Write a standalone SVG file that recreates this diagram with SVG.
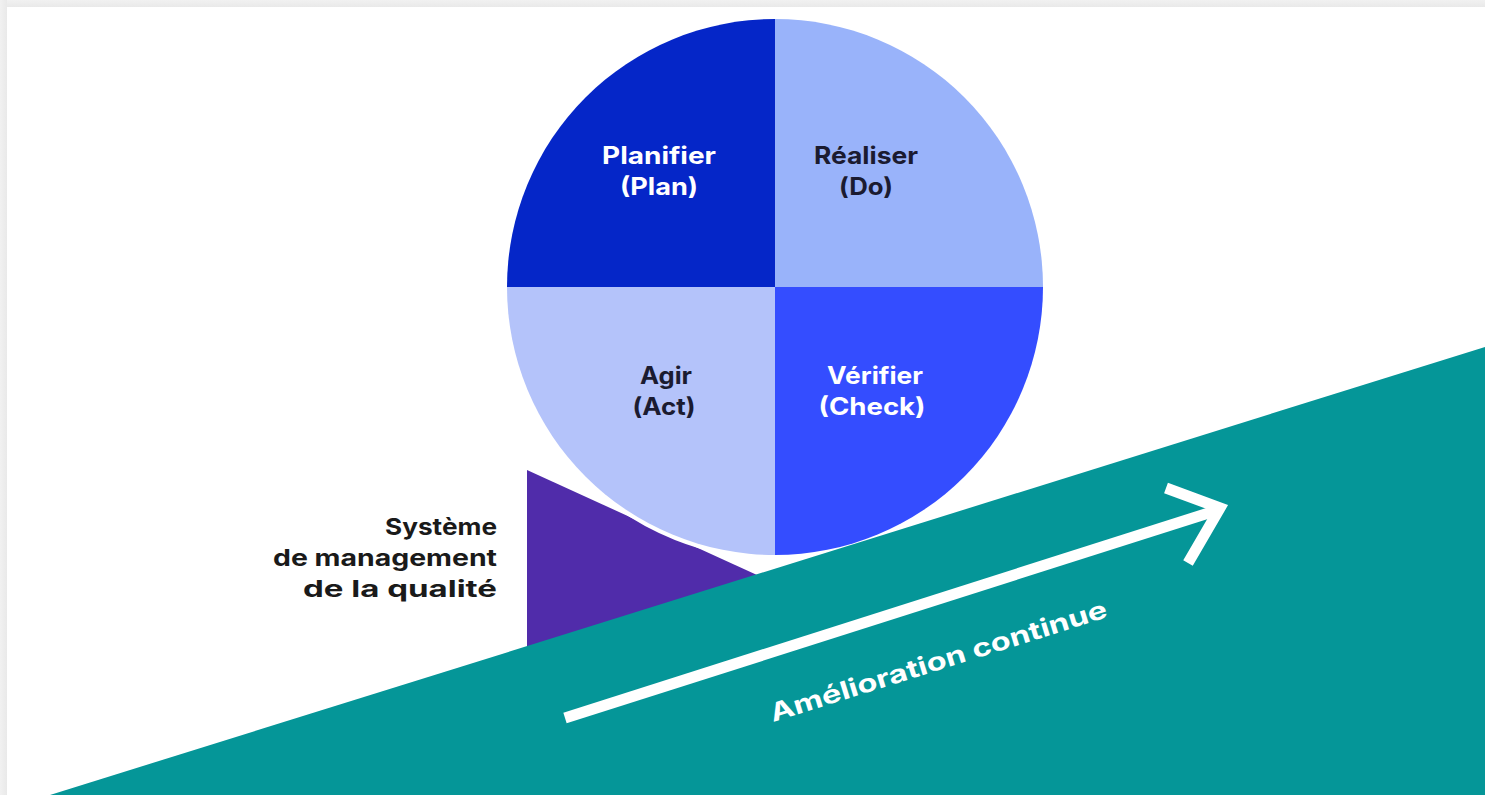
<svg xmlns="http://www.w3.org/2000/svg" width="1485" height="795" viewBox="0 0 1485 795">
  <style>
    .lbl { font-family: Inter, "Noto Sans", "DejaVu Sans", sans-serif; font-weight: 700; font-size: 24px; text-anchor: middle; }
    .light { fill: #ffffff; }
    .dark { fill: #1b1b30; }
    .side { font-family: Inter, "Noto Sans", "DejaVu Sans", sans-serif; font-weight: 700; font-size: 23px; text-anchor: end; fill: #1a1a1a; }
    .arrow { fill: none; stroke: #ffffff; stroke-width: 11; }
  </style>
  <defs>
    <linearGradient id="edgeTop" x1="0" y1="0" x2="0" y2="1">
      <stop offset="0" stop-color="#f1f1f1"/>
      <stop offset="1" stop-color="#e9e9e9"/>
    </linearGradient>
    <linearGradient id="edgeLeft" x1="0" y1="0" x2="1" y2="0">
      <stop offset="0" stop-color="#f1f1f1"/>
      <stop offset="1" stop-color="#e9e9e9"/>
    </linearGradient>
  </defs>

  <!-- page frame -->
  <rect x="0" y="0" width="1485" height="795" fill="#ffffff"/>
  <rect x="0" y="0" width="1485" height="7" fill="url(#edgeTop)"/>
  <rect x="0" y="0" width="7" height="795" fill="url(#edgeLeft)"/>

  <!-- quality management system wedge -->
  <g id="systeme-qualite">
    <polygon points="527,470 757,575 527,660" fill="#502caa"/>
    <text class="side" x="497" y="535" textLength="112" lengthAdjust="spacingAndGlyphs">Système</text>
    <text class="side" x="497" y="566" textLength="224" lengthAdjust="spacingAndGlyphs">de management</text>
    <text class="side" x="497" y="597" textLength="194" lengthAdjust="spacingAndGlyphs">de la qualité</text>
  </g>

  <!-- PDCA wheel -->
  <g id="pdca">
    <circle cx="775" cy="287" r="268" fill="#ffffff" stroke="#ffffff" stroke-width="8"/>
    <path id="plan" d="M775,287 L507,287 A268,268 0 0 1 775,19 Z" fill="#0526c8"/>
    <path id="do" d="M775,287 L775,19 A268,268 0 0 1 1043,287 Z" fill="#99b3fa"/>
    <path id="check" d="M775,287 L1043,287 A268,268 0 0 1 775,555 Z" fill="#344dff"/>
    <path id="act" d="M775,287 L775,555 A268,268 0 0 1 507,287 Z" fill="#b4c3fa"/>
  </g>

  <g id="node-plan">
    <text class="lbl light" x="659" y="164" textLength="114" lengthAdjust="spacingAndGlyphs">Planifier</text>
    <text class="lbl light" x="659" y="195" textLength="78" lengthAdjust="spacingAndGlyphs">(Plan)</text>
  </g>
  <g id="node-do">
    <text class="lbl dark" x="866" y="164" textLength="104" lengthAdjust="spacingAndGlyphs">Réaliser</text>
    <text class="lbl dark" x="866" y="195" textLength="54" lengthAdjust="spacingAndGlyphs">(Do)</text>
  </g>
  <g id="node-act">
    <text class="lbl dark" x="666" y="384" textLength="52" lengthAdjust="spacingAndGlyphs">Agir</text>
    <text class="lbl dark" x="664" y="415" textLength="63" lengthAdjust="spacingAndGlyphs">(Act)</text>
  </g>
  <g id="node-check">
    <text class="lbl light" x="875" y="384" textLength="96" lengthAdjust="spacingAndGlyphs">Vérifier</text>
    <text class="lbl light" x="872" y="415" textLength="107" lengthAdjust="spacingAndGlyphs">(Check)</text>
  </g>

  <!-- continuous improvement ramp -->
  <g id="rampe">
    <polygon points="50,795 1485,347 1485,795" fill="#059698"/>
  </g>

  <g id="connectors">
    <line class="arrow" x1="565" y1="718" x2="1218" y2="510"/>
    <polyline class="arrow" points="1166,488 1220,508 1188,563" stroke-linejoin="miter"/>
  </g>

  <text x="773" y="722" transform="rotate(-17.4 773 722)" textLength="352" lengthAdjust="spacingAndGlyphs"
        font-family="Inter, 'Noto Sans', 'DejaVu Sans', sans-serif" font-weight="700" font-size="25" fill="#ffffff">Amélioration continue</text>
</svg>
